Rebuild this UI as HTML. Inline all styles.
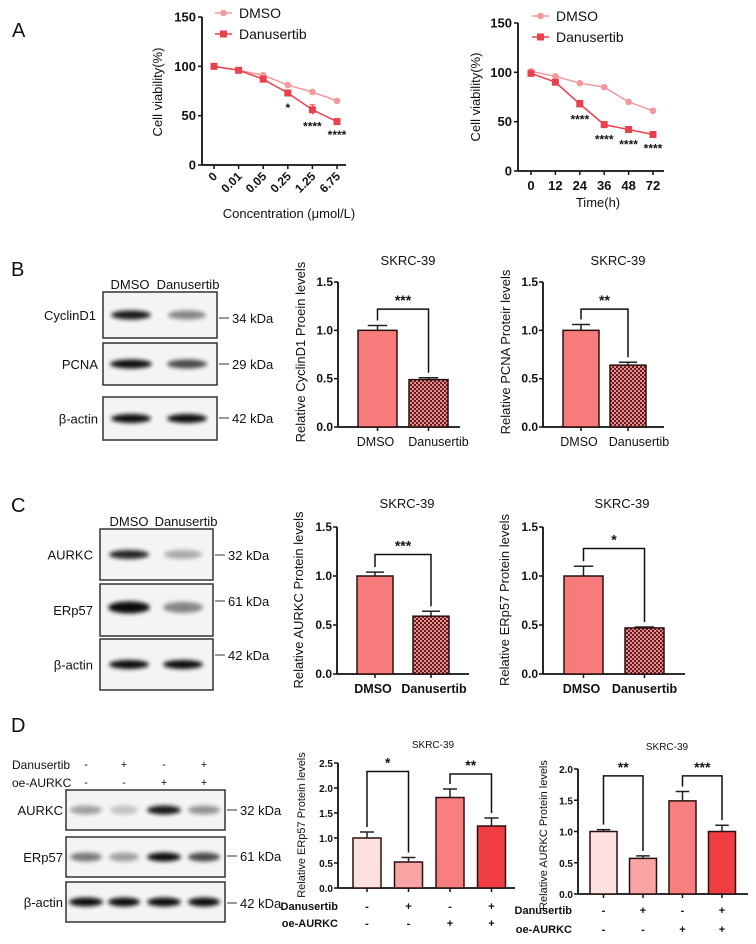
<!DOCTYPE html>
<html><head><meta charset="utf-8"><style>
html,body{margin:0;padding:0;background:#fff}
svg{display:block;font-family:"Liberation Sans",Arial,sans-serif}
</style></head><body>
<svg id="fig" width="756" height="944" viewBox="0 0 756 944" xmlns="http://www.w3.org/2000/svg">
<defs>
<pattern id="chk" width="4" height="4" patternUnits="userSpaceOnUse"><rect width="4" height="4" fill="#5e1f22"/><rect width="2" height="2" fill="#f08a8a"/><rect x="2" y="2" width="2" height="2" fill="#f08a8a"/></pattern>
<filter id="blur" x="-20%" y="-100%" width="140%" height="300%"><feGaussianBlur stdDeviation="2.2"/></filter>
</defs>
</svg>
<script>
// ---- Panel A data ----
const concCats = ['0','0.01','0.05','0.25','1.25','6.75'];
const concDmso = [100, 96, 91, 81, 74, 65];
const concDanu = [100, 96, 87, 73, 56, 44];
const concDanuErr = [1, 1.5, 2, 3, 5, 1.5];
const concStars = ['', '', '', '*', '****', '****'];
const timeCats = ['0','12','24','36','48','72'];
const timeDmso = [101, 96, 89, 85, 70, 61];
const timeDanu = [99, 90, 68, 47, 42, 37];
const timeDanuErr = [2, 2, 3.5, 3, 3, 2];
const timeStars = ['', '', '****', '****', '****', '****'];
const yTicksA = [0, 50, 100, 150];
// ---- Bar chart data ----
const b1Values = [1.0, 0.49]; const b1Errors = [0.05, 0.02];
const b2Values = [1.0, 0.64]; const b2Errors = [0.06, 0.03];
const c1Values = [1.0, 0.59]; const c1Errors = [0.04, 0.05];
const c2Values = [1.0, 0.47]; const c2Errors = [0.10, 0.01];
const d1Values = [1.0, 0.52, 1.81, 1.24]; const d1Errors = [0.12, 0.09, 0.17, 0.16];
const d2Values = [1.0, 0.57, 1.49, 1.0]; const d2Errors = [0.03, 0.04, 0.15, 0.10];
const twoCats = ['DMSO', 'Danusertib'];
const danuSigns = ['-', '+', '-', '+'];
const oeSigns = ['-', '-', '+', '+'];
const ticks15 = [0, 0.5, 1.0, 1.5];
const ticks25 = [0, 0.5, 1.0, 1.5, 2.0, 2.5];
const ticks20 = [0, 0.5, 1.0, 1.5, 2.0];

const NS = 'http://www.w3.org/2000/svg';
const svg = document.getElementById('fig');
function mk(tag, attrs, name, parent) {
  const e = document.createElementNS(NS, tag);
  for (const k in attrs) e.setAttribute(k, attrs[k]);
  
  
  (parent || svg).appendChild(e);
  return e;
}
function txt(x, y, s, size, name, opts, parent) {
  opts = opts || {};
  const a = {x: x, y: y, 'font-size': size, fill: opts.fill || '#111', 'text-anchor': opts.anchor || 'start'};
  if (opts.bold) a['font-weight'] = 'bold';
  if (opts.transform) a.transform = opts.transform;
  const t = mk('text', a, name, parent);
  t.textContent = s;
  return t;
}
function line(x1, y1, x2, y2, name, w, col, parent) {
  return mk('line', {x1: x1, y1: y1, x2: x2, y2: y2, stroke: col || '#111', 'stroke-width': w || 1.5}, name, parent);
}

txt(12, 37, 'A', 20, 'panel-label-a');
txt(11, 276, 'B', 20, 'panel-label-b');
txt(11, 512, 'C', 20, 'panel-label-c');
txt(11, 732, 'D', 20, 'panel-label-d');

function lineChart(cfg) {
  const g = mk('g', {}, cfg.name);
  const yv = v => cfg.y0 - v * (cfg.y0 - cfg.yTop) / 150;
  const xv = i => cfg.xFirst + i * cfg.step;
  line(cfg.ax, cfg.yTop, cfg.ax, cfg.y0, 'y-axis', 1.8, '#111', g);
  line(cfg.ax, cfg.y0, cfg.xEnd, cfg.y0, 'x-axis', 1.8, '#111', g);
  yTicksA.forEach(t => {
    line(cfg.ax - 4, yv(t), cfg.ax, yv(t), 'y-tick', 1.5, '#111', g);
    txt(cfg.ax - 6, yv(t) + 4.5, String(t), 13, 'y-tick-label', {anchor: 'end', bold: true}, g);
  });
  cfg.cats.forEach((c, i) => {
    line(xv(i), cfg.y0, xv(i), cfg.y0 + 4, 'x-tick', 1.5, '#111', g);
    if (cfg.rot) txt(xv(i) + 4, cfg.y0 + 12, c, 12, 'x-tick-label', {anchor: 'end', bold: true, transform: 'rotate(-45 ' + (xv(i) + 4) + ' ' + (cfg.y0 + 12) + ')'}, g);
    else txt(xv(i), cfg.y0 + 19, c, 13, 'x-tick-label', {anchor: 'middle', bold: true}, g);
  });
  const series = [[cfg.dmso, '#f29a9e', 'circle', 'dmso'], [cfg.danu, '#e8414d', 'square', 'danusertib']];
  series.forEach(s => {
    mk('polyline', {points: s[0].map((v, i) => xv(i) + ',' + yv(v)).join(' '), fill: 'none', stroke: s[1], 'stroke-width': 1.5}, s[3] + '-line', g);
    s[0].forEach((v, i) => {
      if (s[3] === 'danusertib') {
        const e = cfg.err[i];
        line(xv(i), yv(v + e), xv(i), yv(v - e), 'error-bar', 1, s[1], g);
        line(xv(i) - 3, yv(v + e), xv(i) + 3, yv(v + e), 'error-cap', 1, s[1], g);
        mk('rect', {x: xv(i) - 3.5, y: yv(v) - 3.5, width: 7, height: 7, fill: s[1]}, 'danusertib-point', g);
      } else {
        mk('circle', {cx: xv(i), cy: yv(v), r: 3.3, fill: s[1]}, 'dmso-point', g);
      }
    });
  });
  cfg.stars.forEach((s, i) => {
    if (s) txt(xv(i), yv(cfg.danu[i] - cfg.err[i]) + 16, s, 12, 'significance-stars', {anchor: 'middle', bold: true}, g);
  });
  const lg = mk('g', {}, 'legend', g);
  line(cfg.lx, cfg.ly, cfg.lx + 17, cfg.ly, 'legend-dmso-line', 1.5, '#f29a9e', lg);
  mk('circle', {cx: cfg.lx + 8.5, cy: cfg.ly, r: 3.3, fill: '#f29a9e'}, 'legend-dmso-marker', lg);
  txt(cfg.lx + 24, cfg.ly + 5, 'DMSO', 14, 'legend-dmso-label', {}, lg);
  line(cfg.lx, cfg.ly + 21, cfg.lx + 17, cfg.ly + 21, 'legend-danusertib-line', 1.5, '#e8414d', lg);
  mk('rect', {x: cfg.lx + 5, y: cfg.ly + 17.5, width: 7, height: 7, fill: '#e8414d'}, 'legend-danusertib-marker', lg);
  txt(cfg.lx + 24, cfg.ly + 26, 'Danusertib', 14, 'legend-danusertib-label', {}, lg);
  txt(cfg.ylx, cfg.yly, 'Cell viability(%)', 13, 'y-axis-title', {anchor: 'middle', transform: 'rotate(-90 ' + cfg.ylx + ' ' + cfg.yly + ')'}, g);
  txt(cfg.xtx, cfg.xty, cfg.xtitle, 13, 'x-axis-title', {anchor: 'middle'}, g);
}
lineChart({name: 'chart-a-concentration', ax: 202, y0: 165, yTop: 17, xFirst: 214, step: 24.6, xEnd: 346, cats: concCats, dmso: concDmso, danu: concDanu, err: concDanuErr, stars: concStars, rot: true, lx: 215, ly: 13, ylx: 162, yly: 92, xtx: 289, xty: 218, xtitle: 'Concentration (μmol/L)'});
lineChart({name: 'chart-a-time', ax: 518, y0: 171, yTop: 23, xFirst: 531, step: 24.4, xEnd: 664, cats: timeCats, dmso: timeDmso, danu: timeDanu, err: timeDanuErr, stars: timeStars, rot: false, lx: 532, ly: 16, ylx: 480, yly: 97, xtx: 598, xty: 207, xtitle: 'Time(h)'});

function barChart(cfg) {
  const g = mk('g', {}, cfg.name);
  const yv = v => cfg.y0 - v * (cfg.y0 - cfg.yTop) / cfg.max;
  const bx = i => cfg.bx0 + i * cfg.pitch;
  line(cfg.ax, cfg.yTop, cfg.ax, cfg.y0, 'y-axis', 1.8, '#111', g);
  line(cfg.ax, cfg.y0, cfg.xEnd, cfg.y0, 'x-axis', 1.8, '#111', g);
  cfg.ticks.forEach(t => {
    line(cfg.ax - 4, yv(t), cfg.ax, yv(t), 'y-tick', 1.5, '#111', g);
    txt(cfg.ax - 5, yv(t) + 4, t.toFixed(1), cfg.tfs, 'y-tick-label', {anchor: 'end', bold: true}, g);
  });
  cfg.values.forEach((v, i) => {
    const cx = bx(i) + cfg.bw / 2;
    const e = cfg.errors[i];
    line(cx, yv(v), cx, yv(v + e), 'error-bar', 1.5, '#222', g);
    line(cx - cfg.bw * 0.25, yv(v + e), cx + cfg.bw * 0.25, yv(v + e), 'error-cap', 1.5, '#222', g);
    mk('rect', {x: bx(i), y: yv(v), width: cfg.bw, height: cfg.y0 - yv(v), fill: cfg.fills[i], stroke: '#2a1010', 'stroke-width': 1.5}, 'bar-' + (i + 1), g);
    line(cx, cfg.y0, cx, cfg.y0 + 4, 'x-tick', 1.5, '#111', g);
  });
  cfg.brackets.forEach(b => {
    const xa = bx(b[0]) + cfg.bw / 2, xb = bx(b[1]) + cfg.bw / 2, yb = yv(b[2]);
    const ya = yv(cfg.values[b[0]] + cfg.errors[b[0]]) - 5, yc = yv(cfg.values[b[1]] + cfg.errors[b[1]]) - 5;
    mk('polyline', {points: xa + ',' + ya + ' ' + xa + ',' + yb + ' ' + xb + ',' + yb + ' ' + xb + ',' + yc, fill: 'none', stroke: '#111', 'stroke-width': 1.5}, 'significance-bracket', g);
    txt((xa + xb) / 2, yb - 4, b[3], 14, 'significance-stars', {anchor: 'middle', bold: true}, g);
  });
  if (cfg.cats) cfg.cats.forEach((c, i) => txt(bx(i) + cfg.bw / 2 + (i === 1 ? cfg.catDx : -2), cfg.y0 + 19, c, 12.5, 'x-tick-label', {anchor: 'middle', bold: cfg.boldCats}, g));
  if (cfg.signRows) cfg.signRows.forEach(r => {
    txt(cfg.rowLabelX, r.y + 4, r.label, 11, 'row-label', {anchor: 'end', bold: true}, g);
    r.signs.forEach((s, i) => txt(bx(i) + cfg.bw / 2, r.y + 4, s, 11, 'sign', {anchor: 'middle', bold: true}, g));
  });
  txt(cfg.titleX, cfg.titleY, 'SKRC-39', cfg.titleSize, 'chart-title', {anchor: 'middle'}, g);
  txt(cfg.ylx, cfg.yly, cfg.ylabel, cfg.ylfs, 'y-axis-title', {anchor: 'middle', transform: 'rotate(-90 ' + cfg.ylx + ' ' + cfg.yly + ')'}, g);
}
const twoFill = ['#f77b7b', 'url(#chk)'];
barChart({name: 'chart-b-cyclind1', ax: 338, y0: 427, yTop: 282, max: 1.5, ticks: ticks15, tfs: 12, bx0: 358, bw: 39, pitch: 51, xEnd: 460, values: b1Values, errors: b1Errors, fills: twoFill, brackets: [[0, 1, 1.22, '***']], cats: twoCats, catDx: 10, titleX: 408, titleY: 265, titleSize: 13, ylx: 305, yly: 352, ylabel: 'Relative CyclinD1 Proein levels', ylfs: 13});
barChart({name: 'chart-b-pcna', ax: 543, y0: 427, yTop: 282, max: 1.5, ticks: ticks15, tfs: 12, bx0: 563, bw: 36, pitch: 47, xEnd: 664, values: b2Values, errors: b2Errors, fills: twoFill, brackets: [[0, 1, 1.22, '**']], cats: twoCats, catDx: 11, titleX: 618, titleY: 265, titleSize: 13, ylx: 510, yly: 352, ylabel: 'Relative PCNA Proteir levels', ylfs: 13});
barChart({name: 'chart-c-aurkc', ax: 337, y0: 674, yTop: 527, max: 1.5, ticks: ticks15, tfs: 12, bx0: 357, bw: 36, pitch: 56, xEnd: 469, values: c1Values, errors: c1Errors, fills: twoFill, brackets: [[0, 1, 1.22, '***']], cats: twoCats, catDx: 3, boldCats: true, titleX: 407, titleY: 508, titleSize: 13, ylx: 303, yly: 600, ylabel: 'Relative AURKC Protein levels', ylfs: 13});
barChart({name: 'chart-c-erp57', ax: 543, y0: 674, yTop: 527, max: 1.5, ticks: ticks15, tfs: 12, bx0: 564, bw: 39, pitch: 61, xEnd: 685, values: c2Values, errors: c2Errors, fills: twoFill, brackets: [[0, 1, 1.28, '*']], cats: twoCats, catDx: 0, boldCats: true, titleX: 622, titleY: 508, titleSize: 13, ylx: 509, yly: 600, ylabel: 'Relative ERp57 Protein levels', ylfs: 13});
const fourFill = ['#fde0e0', '#f8a4a4', '#f77f7f', '#ef3d42'];
barChart({name: 'chart-d-erp57', ax: 338, y0: 888, yTop: 763, max: 2.5, ticks: ticks25, tfs: 10, bx0: 353, bw: 28, pitch: 41.5, xEnd: 515, values: d1Values, errors: d1Errors, fills: fourFill, brackets: [[0, 1, 2.33, '*'], [2, 3, 2.28, '**']], signRows: [{label: 'Danusertib', y: 906, signs: danuSigns}, {label: 'oe-AURKC', y: 923, signs: oeSigns}], rowLabelX: 338, titleX: 433, titleY: 748, titleSize: 10, ylx: 305, yly: 825, ylabel: 'Relative ERp57 Protein levels', ylfs: 11});
barChart({name: 'chart-d-aurkc', ax: 578, y0: 894, yTop: 769, max: 2.0, ticks: ticks20, tfs: 10, bx0: 590, bw: 27, pitch: 39.5, xEnd: 748, values: d2Values, errors: d2Errors, fills: fourFill, brackets: [[0, 1, 1.89, '**'], [2, 3, 1.89, '***']], signRows: [{label: 'Danusertib', y: 910, signs: danuSigns}, {label: 'oe-AURKC', y: 929, signs: oeSigns}], rowLabelX: 572, titleX: 667, titleY: 750, titleSize: 10, ylx: 547, yly: 835, ylabel: 'Relative AURKC Protein levels', ylfs: 11});

function blot(name, x, y, w, h, lanes, label, labelX, kda, kdaY, parent) {
  const g = mk('g', {}, name, parent);
  mk('rect', {x: x, y: y, width: w, height: h, fill: '#f4f4f4', stroke: '#333', 'stroke-width': 1.5}, 'blot-frame', g);
  lanes.forEach(l => {
    mk('ellipse', {cx: l[0], cy: y + h * (l[3] || 0.5), rx: l[1], ry: l[4] || 4.5, fill: '#000', opacity: l[2], filter: 'url(#blur)'}, 'blot-band', g);
  });
  txt(labelX, y + h / 2 + 5, label, 13, 'blot-label', {anchor: 'end'}, g);
  line(x + w + 2, kdaY, x + w + 12, kdaY, 'kda-marker', 1, '#333', g);
  txt(x + w + 15, kdaY + 5, kda, 13, 'kda-label', {}, g);
}
const bB = mk('g', {}, 'blot-b');
txt(130, 289, 'DMSO', 13, 'lane-header-dmso', {anchor: 'middle'}, bB);
txt(188, 289, 'Danusertib', 13, 'lane-header-danusertib', {anchor: 'middle'}, bB);
blot('blot-cyclind1', 103, 292, 114, 46, [[131, 20, 0.9], [187, 19, 0.45]], 'CyclinD1', 96, '34 kDa', 318, bB);
blot('blot-pcna', 103, 343, 114, 42, [[131, 21, 0.95], [187, 20, 0.7]], 'PCNA', 98, '29 kDa', 364, bB);
blot('blot-b-actin', 103, 397, 114, 43, [[131, 20, 0.95], [187, 20, 0.95]], 'β-actin', 98, '42 kDa', 418, bB);
const bC = mk('g', {}, 'blot-c');
txt(129, 526, 'DMSO', 13, 'lane-header-dmso', {anchor: 'middle'}, bC);
txt(186, 526, 'Danusertib', 13, 'lane-header-danusertib', {anchor: 'middle'}, bC);
blot('blot-c-aurkc', 100, 529, 113, 51, [[129, 20, 0.85], [183, 19, 0.3]], 'AURKC', 93, '32 kDa', 555, bC);
blot('blot-c-erp57', 100, 584, 113, 52, [[129, 21, 0.95, 0.45, 6], [183, 20, 0.45, 0.45, 5.5]], 'ERp57', 93, '61 kDa', 601, bC);
blot('blot-c-b-actin', 100, 639, 113, 51, [[129, 20, 0.95], [183, 20, 0.95]], 'β-actin', 93, '42 kDa', 655, bC);
const bD = mk('g', {}, 'blot-d');
txt(12, 769, 'Danusertib', 12, 'row-label-danusertib', {}, bD);
txt(12, 787, 'oe-AURKC', 12, 'row-label-oe-aurkc', {}, bD);
const dLanes = [86, 124, 164, 204];
dLanes.forEach((lx, i) => {
  txt(lx, 768, danuSigns[i], 11, 'sign', {anchor: 'middle'}, bD);
  txt(lx, 786, oeSigns[i], 11, 'sign', {anchor: 'middle'}, bD);
});
blot('blot-d-aurkc', 66, 790, 159, 40, [[86, 16, 0.35], [124, 14, 0.2], [164, 17, 0.9], [204, 16, 0.4]], 'AURKC', 63, '32 kDa', 810, bD);
blot('blot-d-erp57', 66, 837, 159, 40, [[86, 16, 0.5], [124, 15, 0.35], [164, 17, 0.95], [204, 16, 0.7]], 'ERp57', 63, '61 kDa', 856, bD);
blot('blot-d-b-actin', 66, 882, 159, 40, [[86, 17, 0.95], [124, 16, 0.95], [164, 17, 0.95], [204, 16, 0.95]], 'β-actin', 63, '42 kDa', 903, bD);
</script>
</body></html>
